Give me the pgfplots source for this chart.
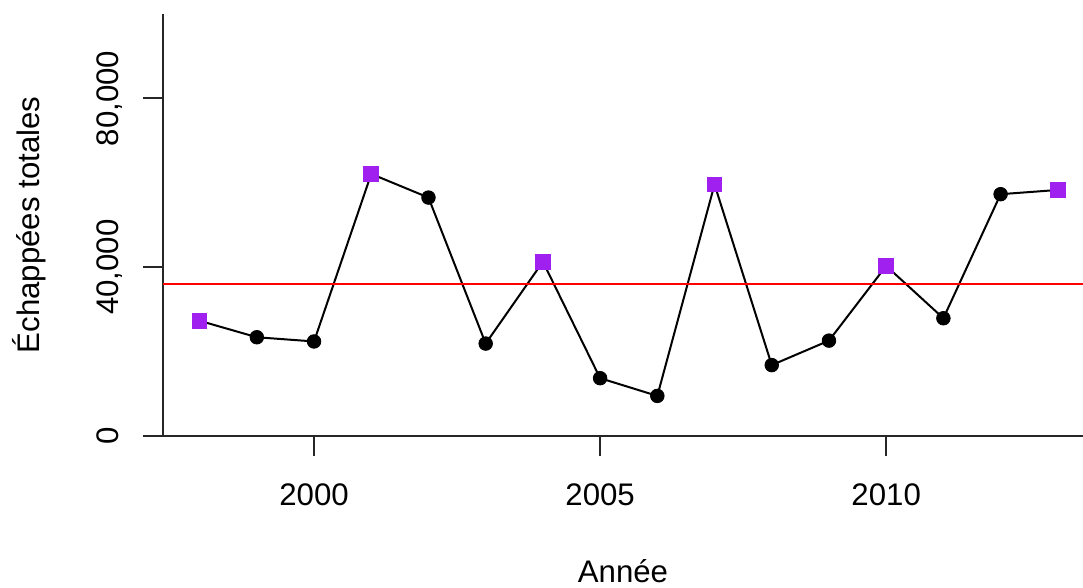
\documentclass[border=0pt]{standalone}
\usepackage{pgfplots}
\pgfplotsset{compat=1.18}
\usepackage{fontspec}
\setmainfont{Liberation Sans}
\definecolor{rpurple}{HTML}{A020F0}
\begin{document}
\fontsize{15.6}{18}\selectfont
\begin{tikzpicture}
\begin{axis}[
  scale only axis, width=460pt, height=211pt,
  xmin=1997.36, xmax=2013.44, ymin=0, ymax=100000,
  axis lines=left, axis line style={-, line width=1pt, black!85},
  tick align=outside, major tick length=10pt, tick style={line width=1pt, black!85},
  xtick={2000,2005,2010}, ytick={0,40000,80000},
  scaled y ticks=false,
  /pgf/number format/assume math mode=true,
  xticklabel style={/pgf/number format/1000 sep={}, anchor=base, inner sep=0pt, yshift=-25pt},
  yticklabel style={/pgf/number format/1000 sep={,}, xshift=-12.5pt, rotate=90, anchor=base, inner sep=0pt},
  xlabel={Année}, ylabel={Échappées totales},
  xlabel style={at={(axis description cs:0.5,-0.3460)}, anchor=base, inner sep=0pt},
  ylabel style={at={(axis description cs:-0.1337,0.5)}, anchor=base, inner sep=0pt},
  clip=false,
]
\addplot[black, line width=1pt, no markers] coordinates {
(1998,27300) (1999,23400) (2000,22400) (2001,62100) (2002,56500) (2003,21900)
(2004,41300) (2005,13700) (2006,9500) (2007,59600) (2008,16800) (2009,22600)
(2010,40300) (2011,27900) (2012,57300) (2013,58300)};
\addplot[red, line width=1pt, no markers] coordinates {(1997.36,36000) (2013.44,36000)};
\addplot[only marks, mark=*, mark size=3.4pt, black] coordinates {
(1999,23400) (2000,22400) (2002,56500) (2003,21900) (2005,13700) (2006,9500)
(2008,16800) (2009,22600) (2011,27900) (2012,57300)};
\addplot[only marks, mark=square*, mark size=3.65pt, color=rpurple, mark options={draw=rpurple, fill=rpurple, line width=0pt}] coordinates {
(1998,27300) (2001,62100) (2004,41300) (2007,59600) (2010,40300) (2013,58300)};
\end{axis}
\pgfresetboundingbox
\path ([xshift=-81.5pt,yshift=-76pt]current axis.south west) rectangle ([yshift=7pt]current axis.north east);
\end{tikzpicture}
\end{document}
